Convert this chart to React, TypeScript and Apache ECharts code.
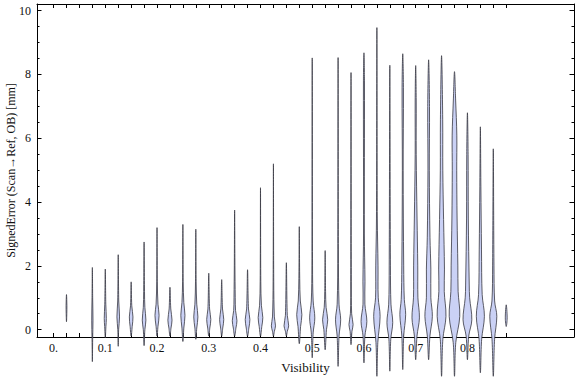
import { useEffect, useRef } from "react";
import * as echarts from "echarts";

// Visibility bin (x) of each violin
const visibility = [
  0.025, 0.075, 0.1, 0.125, 0.15, 0.175, 0.2, 0.225, 0.25, 0.275, 0.3, 0.325,
  0.35, 0.375, 0.4, 0.425, 0.45, 0.475, 0.5, 0.525, 0.55, 0.575, 0.6, 0.625,
  0.65, 0.675, 0.7, 0.725, 0.75, 0.775, 0.8, 0.825, 0.85, 0.875,
];

// Density profile of each violin: [signedError, half-width in visibility units]
const profiles: number[][][] = [
  [[0.25, 0], [0.5, 0.0006], [0.75, 0.0008], [0.95, 0.0005], [1.1, 0]],
  [[-1.0, 0], [-0.3, 0.0006], [0.3, 0.0012], [1.0, 0.0006], [1.95, 0]],
  [[-0.25, 0], [0.1, 0.0012], [0.35, 0.002], [0.8, 0.001], [1.9, 0]],
  [[-0.52, 0], [0.0, 0.0008], [0.4, 0.0025], [0.9, 0.001], [2.35, 0]],
  [[-0.2, 0], [0.1, 0.002], [0.4, 0.0035], [0.75, 0.0012], [1.5, 0]],
  [[-0.5, 0], [0.0, 0.0015], [0.3, 0.0035], [0.7, 0.0015], [1.2, 0.0008], [2.75, 0]],
  [[-0.2, 0], [0.1, 0.0018], [0.45, 0.004], [0.8, 0.0018], [1.5, 0.0006], [3.2, 0]],
  [[-0.2, 0], [0.05, 0.002], [0.3, 0.004], [0.65, 0.0016], [1.33, 0]],
  [[-0.37, 0], [0.05, 0.0018], [0.45, 0.004], [0.85, 0.0018], [1.5, 0.0006], [3.3, 0]],
  [[-0.3, 0], [0.05, 0.0018], [0.4, 0.004], [0.8, 0.0018], [1.5, 0.0006], [3.15, 0]],
  [[-0.2, 0], [0.05, 0.002], [0.32, 0.004], [0.65, 0.0016], [1.77, 0]],
  [[-0.2, 0], [0.05, 0.002], [0.32, 0.004], [0.65, 0.0016], [1.57, 0]],
  [[-0.2, 0], [0.05, 0.0025], [0.28, 0.0045], [0.6, 0.0018], [1.0, 0.0012], [2.0, 0.0006], [3.75, 0]],
  [[-0.2, 0], [0.05, 0.0025], [0.32, 0.0045], [0.65, 0.0018], [1.88, 0]],
  [[-0.2, 0], [0.1, 0.0025], [0.38, 0.0045], [0.75, 0.0018], [1.5, 0.0006], [4.45, 0]],
  [[-0.2, 0], [-0.05, 0.0018], [0.12, 0.004], [0.4, 0.0018], [1.5, 0.0006], [5.2, 0]],
  [[-0.2, 0], [-0.05, 0.0018], [0.12, 0.0045], [0.45, 0.0018], [2.1, 0]],
  [[-0.44, 0], [0.1, 0.0025], [0.47, 0.005], [0.9, 0.002], [1.6, 0.0008], [3.23, 0]],
  [[-0.88, 0], [-0.1, 0.0018], [0.37, 0.005], [0.9, 0.0018], [2.0, 0.0006], [8.52, 0]],
  [[-0.63, 0], [0.0, 0.0025], [0.31, 0.005], [0.7, 0.0018], [1.2, 0.0008], [2.48, 0]],
  [[-1.15, 0], [-0.2, 0.0018], [0.31, 0.005], [0.8, 0.0018], [2.5, 0.0006], [8.53, 0]],
  [[-0.47, 0], [-0.05, 0.0018], [0.16, 0.004], [0.5, 0.0012], [1.5, 0.0006], [8.06, 0]],
  [[-1.04, 0], [-0.2, 0.0018], [0.26, 0.0056], [0.8, 0.0018], [1.5, 0.002], [3.0, 0.0008], [7.8, 0.001], [8.68, 0]],
  [[-1.46, 0], [-0.4, 0.0018], [0.42, 0.0062], [1.0, 0.0026], [2.0, 0.0022], [3.5, 0.0008], [9.47, 0]],
  [[-1.3, 0], [-0.3, 0.0018], [0.22, 0.0056], [0.8, 0.0022], [2.0, 0.0012], [8.29, 0]],
  [[-1.25, 0], [-0.2, 0.0018], [0.47, 0.0056], [0.95, 0.003], [2.0, 0.0018], [5.0, 0.0008], [7.6, 0.0013], [8.65, 0]],
  [[-0.94, 0], [-0.2, 0.0025], [0.37, 0.0072], [1.0, 0.0043], [2.0, 0.004], [3.5, 0.0026], [5.5, 0.001], [7.2, 0.001], [8.28, 0]],
  [[-0.94, 0], [-0.2, 0.0025], [0.42, 0.0072], [1.0, 0.0043], [1.9, 0.0043], [2.9, 0.0026], [5.0, 0.0013], [7.0, 0.0017], [8.46, 0]],
  [[-1.46, 0], [-0.3, 0.0025], [0.42, 0.0085], [1.2, 0.0052], [1.9, 0.0056], [3.45, 0.0039], [5.0, 0.0024], [6.6, 0.0022], [8.59, 0]],
  [[-1.46, 0], [-0.4, 0.0025], [0.42, 0.0102], [1.2, 0.007], [2.0, 0.0065], [3.5, 0.005], [5.0, 0.0043], [6.1, 0.0045], [7.2, 0.0022], [8.09, 0]],
  [[-0.94, 0], [-0.2, 0.0025], [0.31, 0.0085], [1.0, 0.0043], [1.4, 0.0035], [3.5, 0.0017], [5.5, 0.0013], [6.8, 0]],
  [[-1.35, 0], [-0.3, 0.0025], [0.42, 0.0078], [1.1, 0.0035], [2.5, 0.0022], [4.5, 0.001], [6.36, 0]],
  [[-1.46, 0], [-0.3, 0.0025], [0.42, 0.0068], [0.9, 0.0026], [2.0, 0.0013], [5.67, 0]],
  [[0.1, 0], [0.37, 0.0018], [0.78, 0]],
];

// Axes
const xTickValues = [
  0, 0.025, 0.05, 0.075, 0.1, 0.125, 0.15, 0.175, 0.2, 0.225, 0.25, 0.275,
  0.3, 0.325, 0.35, 0.375, 0.4, 0.425, 0.45, 0.475, 0.5, 0.525, 0.55, 0.575,
  0.6, 0.625, 0.65, 0.675, 0.7, 0.725, 0.75, 0.775, 0.8, 0.825, 0.85, 0.875,
];
const xLabelValues = [0, 0.1, 0.2, 0.3, 0.4, 0.5, 0.6, 0.7, 0.8];
const xLabelTexts = ["0.", "0.1", "0.2", "0.3", "0.4", "0.5", "0.6", "0.7", "0.8"];
const yMajorValues = [0, 2, 4, 6, 8, 10];
const yMinorValues = [0.5, 1, 1.5, 2.5, 3, 3.5, 4.5, 5, 5.5, 6.5, 7, 7.5, 8.5, 9, 9.5];

const FONT = '"Liberation Serif", "DejaVu Serif", serif';

export default function App() {
  const ref = useRef<HTMLDivElement>(null);

  useEffect(() => {
    if (!ref.current) return;
    const chart = echarts.init(ref.current, undefined, { renderer: "svg" });

    const xMin = -0.032;
    const xMax = 1.006;
    const yMin = -0.229;
    const yMax = 10.21;

    const tickOnly = (pos: string, values: number[], len: number, min: number, max: number, line: boolean) => ({
      type: "value",
      position: pos,
      min,
      max,
      axisLine: { show: line, onZero: false, lineStyle: { color: "#000", width: 1 } },
      splitLine: { show: false },
      axisLabel: { show: false },
      axisTick: { show: true, inside: true, length: len, customValues: values, lineStyle: { color: "#000", width: 1 } },
    });

    chart.setOption({
      animation: false,
      grid: { left: 37, right: 2, top: 4, bottom: 40, containLabel: false, outerBoundsMode: "none" },
      xAxis: [
        {
          type: "value",
          position: "bottom",
          min: xMin,
          max: xMax,
          axisLine: { show: true, onZero: false, lineStyle: { color: "#000", width: 1 } },
          splitLine: { show: false },
          axisTick: { show: true, inside: true, length: 4, customValues: xTickValues, lineStyle: { color: "#000", width: 1 } },
          axisLabel: {
            customValues: xLabelValues,
            formatter: (v: number) => {
              const i = xLabelValues.findIndex((t) => Math.abs(t - v) < 1e-9);
              return i >= 0 ? xLabelTexts[i] : "";
            },
            fontFamily: FONT,
            fontSize: 12,
            color: "#111",
            margin: 5,
          },
          name: "Visibility",
          nameLocation: "middle",
          nameGap: 24,
          nameMoveOverlap: false,
          nameTextStyle: { fontFamily: FONT, fontSize: 13, color: "#111" },
        },
        tickOnly("top", xTickValues, 4, xMin, xMax, true),
      ],
      yAxis: [
        {
          type: "value",
          position: "left",
          min: yMin,
          max: yMax,
          axisLine: { show: true, onZero: false, lineStyle: { color: "#000", width: 1 } },
          splitLine: { show: false },
          axisTick: { show: true, inside: true, length: 4.5, customValues: yMajorValues, lineStyle: { color: "#000", width: 1 } },
          axisLabel: {
            customValues: yMajorValues,
            fontFamily: FONT,
            fontSize: 12,
            color: "#111",
            margin: 6,
          },
          name: "SignedError (Scan\u2192Ref, OB) [mm]",
          nameLocation: "middle",
          nameGap: 20,
          nameMoveOverlap: false,
          nameTextStyle: { fontFamily: FONT, fontSize: 12, color: "#111" },
        },
        tickOnly("left", yMinorValues, 2.5, yMin, yMax, false),
        tickOnly("right", yMajorValues, 4.5, yMin, yMax, true),
        tickOnly("right", yMinorValues, 2.5, yMin, yMax, false),
      ],
      series: [
        {
          type: "custom",
          xAxisIndex: 0,
          yAxisIndex: 0,
          clip: false,
          data: visibility.map((v, i) => [v, i]),
          encode: { x: 0 },
          renderItem: (_params: any, api: any) => {
            const x = api.value(0);
            const prof = profiles[api.value(1)];
            const right = prof.map(([y, w]) => api.coord([x + w, y]));
            const left = prof
              .slice()
              .reverse()
              .map(([y, w]) => api.coord([x - w, y]));
            const points = right.concat(left.slice(1, -1));
            return {
              type: "polygon",
              shape: { points, smooth: 0.35 },
              style: { fill: "#cad1f5", stroke: "rgba(55,55,65,0.8)", lineWidth: 1 },
            };
          },
        },
      ],
    });

    return () => chart.dispose();
  }, []);

  return (
    <div
      ref={ref}
      style={{ position: "fixed", left: 0, top: 0, width: 576, height: 377, background: "#fff" }}
    />
  );
}
